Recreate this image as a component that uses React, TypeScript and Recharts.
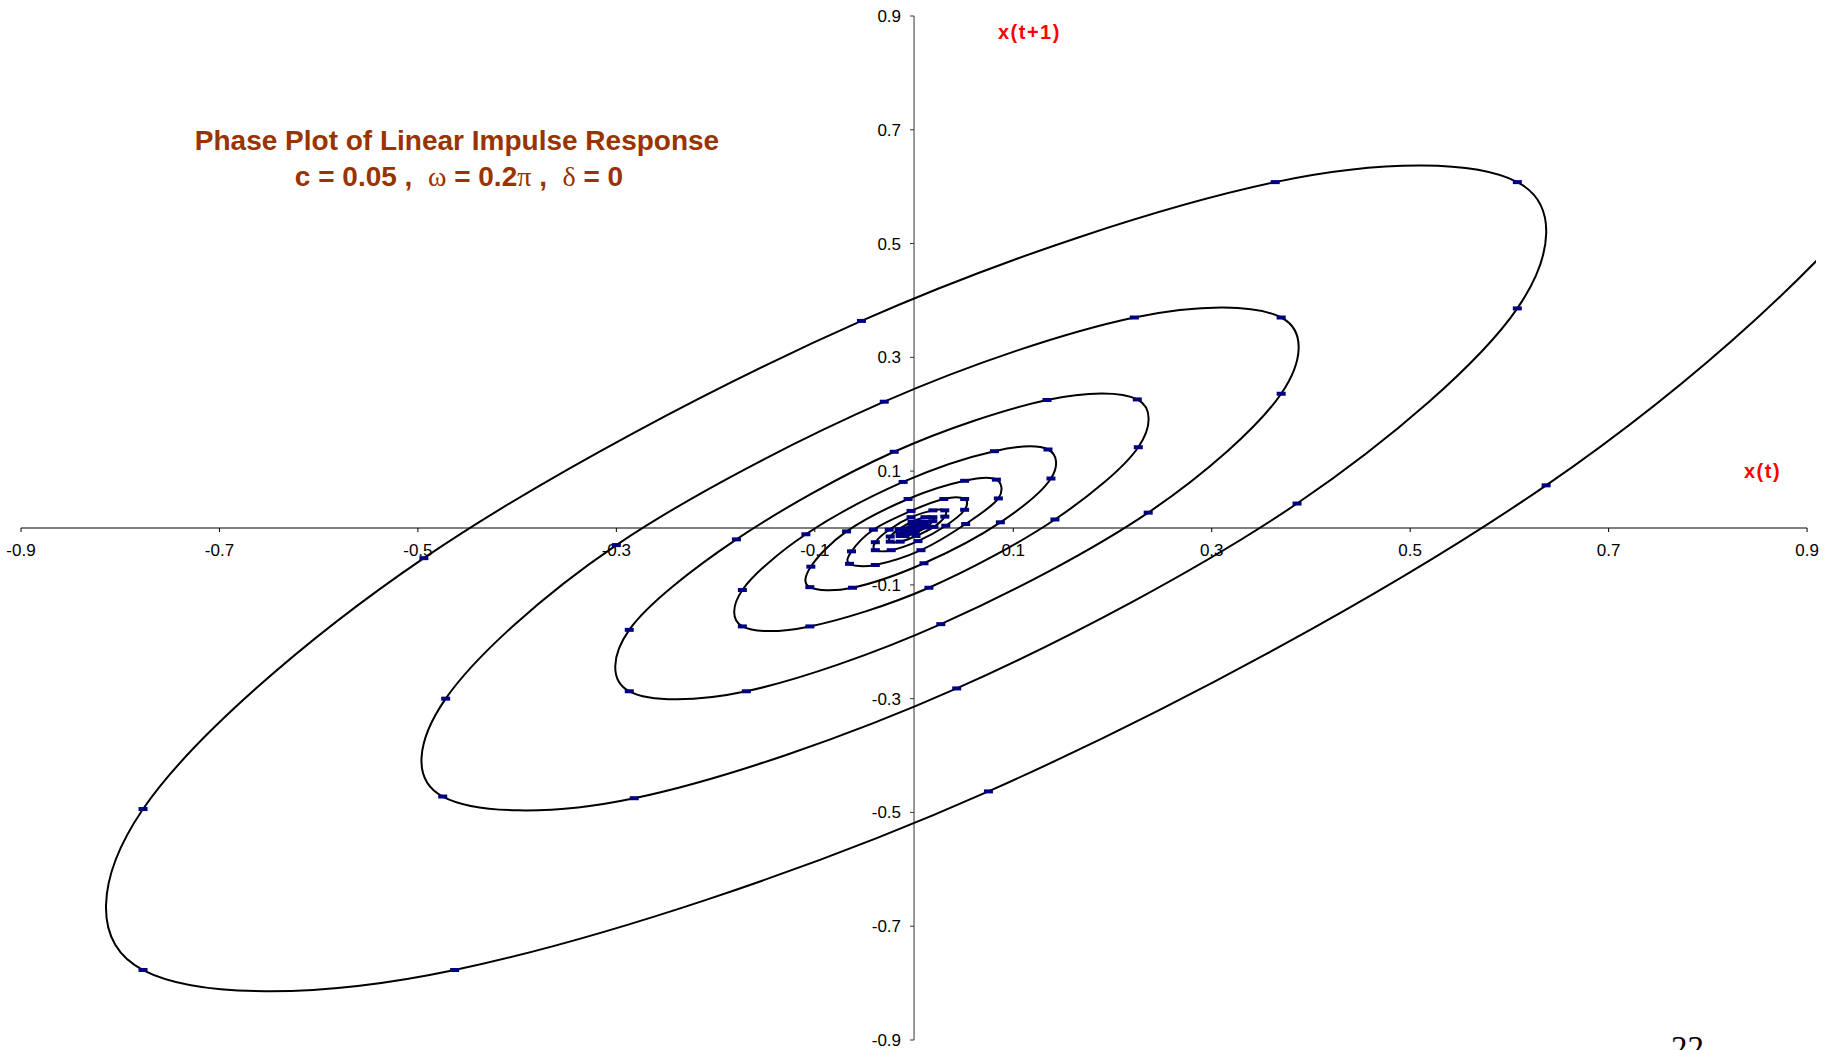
import React from "react";
import {
  LineChart,
  Line,
  XAxis,
  YAxis,
  ReferenceLine,
  ReferenceDot,
} from "recharts";

// x(t) of the damped impulse response.
// first two values lie past the right edge of the chart
const xSeries = [
  0.99, 0.99, 0.637, 0.075, -0.463, -0.777, -0.777, -0.494, -0.053, 0.364,
  0.608, 0.608, 0.386, 0.043, -0.282, -0.475, -0.472, -0.3, -0.03, 0.222,
  0.37, 0.37, 0.236, 0.027, -0.169, -0.287, -0.287, -0.179, -0.02, 0.134,
  0.225, 0.226, 0.142, 0.015, -0.105, -0.173, -0.173, -0.109, -0.011, 0.081,
  0.135, 0.138, 0.087, 0.01, -0.062, -0.105, -0.104, -0.068, -0.006, 0.051,
  0.083, 0.085, 0.052, 0.007, -0.039, -0.065, -0.063, -0.041, -0.003, 0.03,
  0.051, 0.051, 0.032, 0.004, -0.023, -0.039, -0.039, -0.025, -0.003, 0.019,
  0.031, 0.031, 0.02, 0.002, -0.014, -0.024, -0.024, -0.015, -0.002, 0.011,
  0.019, 0.019, 0.012, 0.001, -0.009, -0.014, -0.014, -0.009, -0.001, 0.007,
  0.011, 0.011, 0.007, 0.001, -0.005, -0.009, -0.009, -0.006, -0.001, 0.004,
  0.007, 0.007, 0.004, 0.0, -0.003, -0.005, -0.005, -0.003, 0.0, 0.003,
];

const axisTicks = [-0.9, -0.7, -0.5, -0.3, -0.1, 0.1, 0.3, 0.5, 0.7, 0.9];
const tickLabels = ["-0.9", "-0.7", "-0.5", "-0.3", "-0.1", "0.1", "0.3", "0.5", "0.7", "0.9"];

// phase plot: each point is (x(t), x(t+1))
const points = xSeries.slice(0, -1).map((v, i) => ({ x: v, y: xSeries[i + 1] }));

const FONT = "'Liberation Sans', Arial, sans-serif";
const SERIF = "'Liberation Serif', 'Times New Roman', serif";

// Excel style smoothed line (uniform catmull-rom as bezier)
const excelSmooth = (context: any) => {
  let pts: number[][] = [];
  return {
    areaStart() {},
    areaEnd() {},
    lineStart() {
      pts = [];
    },
    point(x: number, y: number) {
      pts.push([+x, +y]);
    },
    lineEnd() {
      if (!pts.length) return;
      context.moveTo(pts[0][0], pts[0][1]);
      for (let i = 0; i < pts.length - 1; i++) {
        const p0 = pts[Math.max(i - 1, 0)];
        const p1 = pts[i];
        const p2 = pts[i + 1];
        const p3 = pts[Math.min(i + 2, pts.length - 1)];
        context.bezierCurveTo(
          p1[0] + (p2[0] - p0[0]) / 6,
          p1[1] + (p2[1] - p0[1]) / 6,
          p2[0] - (p3[0] - p1[0]) / 6,
          p2[1] - (p3[1] - p1[1]) / 6,
          p2[0],
          p2[1]
        );
      }
    },
  };
};

const marker = (p: any) => (
  <rect
    key={`m-${p.index}`}
    x={p.cx - 4.5}
    y={p.cy - 2}
    width={9}
    height={4}
    fill="#000080"
  />
);

export default function App() {
  return (
    <div
      style={{
        position: "absolute",
        left: 0,
        top: 0,
        width: 1829,
        height: 1050,
        overflow: "hidden",
        background: "#fff",
      }}
    >
      <LineChart
        width={1829}
        height={1050}
        data={points}
        margin={{ top: 16, right: 13, bottom: 10, left: 21 }}
      >
        <XAxis type="number" dataKey="x" domain={[-0.9, 0.909]} hide allowDataOverflow />
        <YAxis type="number" domain={[-0.9, 0.9]} hide allowDataOverflow />
        <ReferenceLine
          segment={[{ x: -0.9, y: 0 }, { x: 0.9, y: 0 }]}
          stroke="#000"
          strokeWidth={1}
        />
        <ReferenceLine
          segment={[{ x: 0, y: -0.9 }, { x: 0, y: 0.9 }]}
          stroke="#333"
          strokeWidth={1}
        />
        {axisTicks.map((v, i) => (
          <ReferenceDot
            key={`xt-${v}`}
            x={v}
            y={0}
            r={0}
            shape={(p: any) => (
              <g>
                <line x1={p.cx} y1={p.cy} x2={p.cx} y2={p.cy + 4} stroke="#000" />
                <text
                  x={p.cx}
                  y={p.cy + 28}
                  textAnchor="middle"
                  fontSize={17}
                  fontFamily={FONT}
                  fill="#000"
                >
                  {tickLabels[i]}
                </text>
              </g>
            )}
          />
        ))}
        {axisTicks.map((v, i) => (
          <ReferenceDot
            key={`yt-${v}`}
            x={0}
            y={v}
            r={0}
            shape={(p: any) => (
              <g>
                <line x1={p.cx - 4} y1={p.cy} x2={p.cx} y2={p.cy} stroke="#333" />
                <text
                  x={p.cx - 13}
                  y={p.cy + 6}
                  textAnchor="end"
                  fontSize={17}
                  fontFamily={FONT}
                  fill="#000"
                >
                  {tickLabels[i]}
                </text>
              </g>
            )}
          />
        ))}
        <Line
          dataKey="y"
          type={excelSmooth as any}
          stroke="#000"
          strokeWidth={2}
          dot={marker}
          activeDot={false}
          isAnimationActive={false}
        />
      </LineChart>
      <svg
        width={1829}
        height={1050}
        style={{ position: "absolute", left: 0, top: 0, pointerEvents: "none" }}
      >
        <text
          x={457}
          y={150}
          textAnchor="middle"
          fontSize={28}
          fontWeight="bold"
          fontFamily={FONT}
          fill="#993300"
        >
          Phase Plot of Linear Impulse Response
        </text>
        <text
          x={459}
          y={186}
          textAnchor="middle"
          fontSize={28}
          fontWeight="bold"
          fontFamily={FONT}
          fill="#993300"
          style={{ whiteSpace: "pre" }}
        >
          {"c = 0.05 ,  "}
          <tspan fontFamily={SERIF} fontWeight="normal">ω</tspan>
          {" = 0.2"}
          <tspan fontFamily={SERIF} fontWeight="normal">π</tspan>
          {" ,  "}
          <tspan fontFamily={SERIF} fontWeight="normal">δ</tspan>
          {" = 0"}
        </text>
        <text
          x={998}
          y={39}
          fontSize={20}
          fontWeight="bold"
          fontFamily={FONT}
          fill="#ff0000"
          letterSpacing={1.5}
        >
          x(t+1)
        </text>
        <text
          x={1744}
          y={478}
          fontSize={20}
          fontWeight="bold"
          fontFamily={FONT}
          fill="#ff0000"
          letterSpacing={1.5}
        >
          x(t)
        </text>
        <text x={1671} y={1059} fontSize={33} fontFamily={SERIF} fill="#000">
          22
        </text>
      </svg>
    </div>
  );
}
